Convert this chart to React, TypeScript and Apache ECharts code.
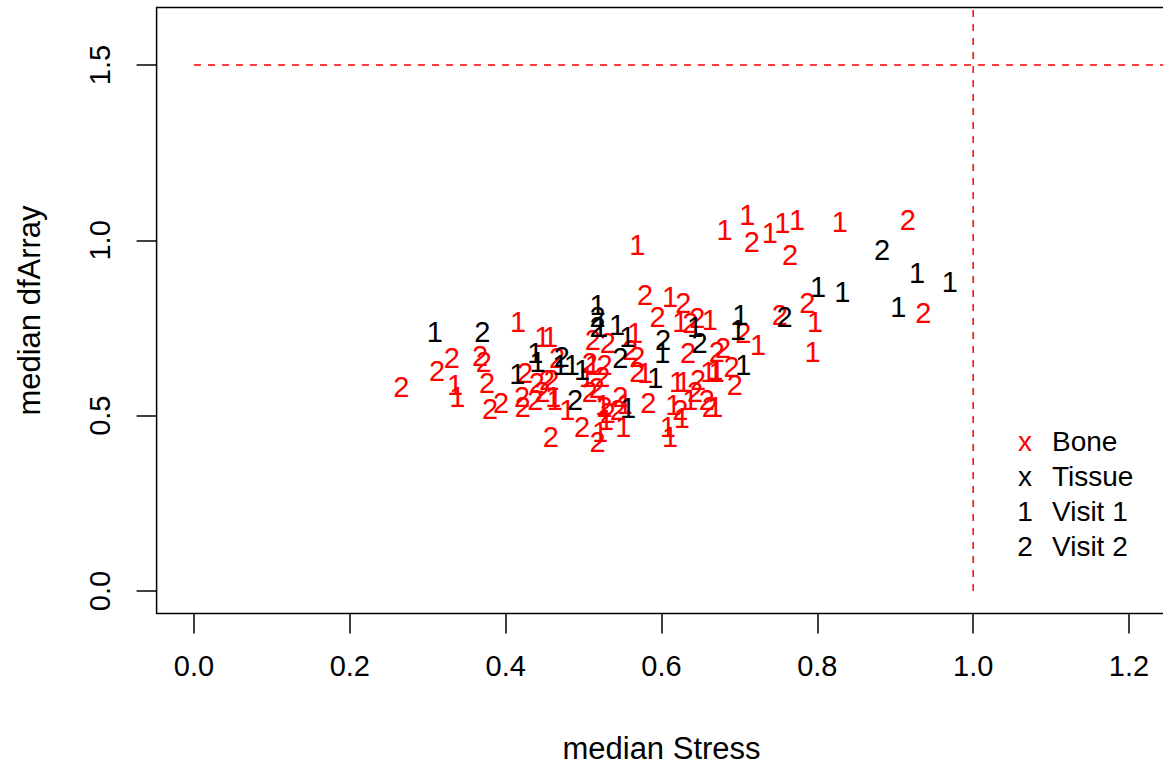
import React, { useEffect, useRef } from "react";
import * as echarts from "echarts";

// Data: [median Stress, median dfArray]
const boneVisit1: number[][] = [
  [0.335, 0.587], [0.338, 0.553], [0.416, 0.767], [0.447, 0.724], [0.457, 0.724],
  [0.512, 0.644], [0.504, 0.61], [0.463, 0.545], [0.479, 0.516], [0.521, 0.453],
  [0.551, 0.468], [0.525, 0.53], [0.566, 0.736], [0.569, 0.987], [0.681, 1.029],
  [0.71, 1.072], [0.739, 1.021], [0.755, 1.049], [0.774, 1.058], [0.829, 1.052],
  [0.611, 0.838], [0.624, 0.767], [0.662, 0.773], [0.579, 0.622], [0.66, 0.625],
  [0.669, 0.63], [0.62, 0.596], [0.628, 0.596], [0.637, 0.545], [0.615, 0.53],
  [0.669, 0.525], [0.608, 0.468], [0.626, 0.493], [0.611, 0.439], [0.724, 0.702],
  [0.797, 0.767], [0.794, 0.682], [0.671, 0.625], [0.529, 0.488], [0.553, 0.533],
  [0.461, 0.553],
];
const boneVisit2: number[][] = [
  [0.266, 0.582], [0.312, 0.627], [0.331, 0.664], [0.367, 0.67], [0.372, 0.653],
  [0.376, 0.593], [0.38, 0.519], [0.394, 0.536], [0.425, 0.622], [0.421, 0.553],
  [0.422, 0.525], [0.44, 0.593], [0.447, 0.567], [0.438, 0.545], [0.453, 0.602],
  [0.466, 0.664], [0.459, 0.602], [0.508, 0.65], [0.527, 0.644], [0.524, 0.61],
  [0.508, 0.567], [0.517, 0.579], [0.527, 0.525], [0.531, 0.508], [0.547, 0.553],
  [0.544, 0.516], [0.498, 0.468], [0.518, 0.425], [0.458, 0.439], [0.512, 0.716],
  [0.531, 0.707], [0.56, 0.687], [0.569, 0.667], [0.579, 0.844], [0.628, 0.821],
  [0.595, 0.781], [0.637, 0.764], [0.646, 0.779], [0.634, 0.679], [0.671, 0.682],
  [0.569, 0.625], [0.647, 0.602], [0.643, 0.567], [0.624, 0.516], [0.658, 0.545],
  [0.662, 0.525], [0.583, 0.536], [0.705, 0.736], [0.752, 0.787], [0.787, 0.821],
  [0.679, 0.693], [0.69, 0.639], [0.694, 0.587], [0.716, 0.995], [0.765, 0.958],
  [0.916, 1.058], [0.936, 0.793],
];
const tissueVisit1: number[][] = [
  [0.309, 0.739], [0.415, 0.619], [0.438, 0.679], [0.441, 0.653], [0.518, 0.816],
  [0.521, 0.753], [0.543, 0.759], [0.556, 0.724], [0.47, 0.644], [0.485, 0.644],
  [0.498, 0.63], [0.557, 0.522], [0.592, 0.607], [0.601, 0.679], [0.643, 0.753],
  [0.701, 0.787], [0.698, 0.744], [0.705, 0.644], [0.801, 0.867], [0.832, 0.853],
  [0.928, 0.907], [0.97, 0.881], [0.904, 0.81],
];
const tissueVisit2: number[][] = [
  [0.37, 0.739], [0.472, 0.667], [0.489, 0.545], [0.518, 0.781], [0.518, 0.753],
  [0.547, 0.664], [0.602, 0.716], [0.649, 0.707], [0.758, 0.781], [0.883, 0.972],
];

const xTicks = [0, 0.2, 0.4, 0.6, 0.8, 1.0, 1.2];
const yTicks = [0, 0.5, 1.0, 1.5];
const refLineY = 1.5;
const refLineX = 1.0;
const legendSymbols = ["x", "x", "1", "2"];
const legendLabels = ["Bone", "Tissue", "Visit 1", "Visit 2"];
const legendColors = ["#ff0000", "#000000", "#000000", "#000000"];

const FONT = "'Liberation Sans', Arial, Helvetica, sans-serif";

function glyphSeries(name: string, data: number[][], glyph: string, color: string) {
  return {
    name,
    type: "scatter",
    data,
    symbolSize: 1,
    itemStyle: { color: "rgba(0,0,0,0)", opacity: 1 },
    label: {
      show: true,
      position: "inside",
      formatter: glyph,
      color,
      opacity: 1,
      textBorderWidth: 0,
      fontSize: 29,
      fontFamily: FONT,
    },
    labelLayout: { hideOverlap: false },
    emphasis: { disabled: true },
    z: 3,
  };
}

export default function App() {
  const ref = useRef<HTMLDivElement>(null);
  useEffect(() => {
    document.body.style.margin = "0";
    const chart = echarts.init(ref.current!, null, { renderer: "svg" });
    const legendGraphics: any[] = [];
    legendLabels.forEach((lab, i) => {
      const cy = 441 + i * 35;
      legendGraphics.push({
        type: "text",
        x: 1025,
        y: cy,
        style: {
          text: legendSymbols[i],
          fill: legendColors[i],
          font: `28px ${FONT}`,
          textAlign: "center",
          textVerticalAlign: "middle",
        },
      });
      legendGraphics.push({
        type: "text",
        x: 1052,
        y: cy,
        style: {
          text: lab,
          fill: "#000",
          font: `28px ${FONT}`,
          textAlign: "left",
          textVerticalAlign: "middle",
        },
      });
    });
    chart.setOption({
      animation: false,
      backgroundColor: "#ffffff",
      grid: {
        left: 156.6,
        top: 7.5,
        width: 1009.8,
        height: 606,
        containLabel: false,
        outerBoundsMode: "none",
        show: true,
        borderColor: "#000",
        borderWidth: 1.5,
        backgroundColor: "transparent",
      },
      xAxis: {
        type: "value",
        min: -0.048,
        max: 1.248,
        splitLine: { show: false },
        axisLine: { show: false, onZero: false },
        axisTick: {
          show: true,
          length: 20,
          lineStyle: { color: "#000", width: 1.5 },
          customValues: xTicks,
        },
        axisLabel: {
          show: true,
          margin: 38,
          fontSize: 29,
          fontFamily: FONT,
          color: "#000",
          customValues: xTicks,
          formatter: (v: number) => v.toFixed(1),
        },
        name: "median Stress",
        nameLocation: "middle",
        nameGap: 119,
        nameTextStyle: { fontSize: 31, fontFamily: FONT, color: "#000" },
      },
      yAxis: {
        type: "value",
        min: -0.064,
        max: 1.664,
        splitLine: { show: false },
        axisLine: { show: false, onZero: false },
        axisTick: {
          show: true,
          length: 20,
          lineStyle: { color: "#000", width: 1.5 },
          customValues: yTicks,
        },
        axisLabel: {
          show: true,
          rotate: 90,
          margin: 42,
          fontSize: 29,
          fontFamily: FONT,
          color: "#000",
          customValues: yTicks,
          formatter: (v: number) => v.toFixed(1),
        },
        name: "median dfArray",
        nameLocation: "middle",
        nameGap: 112,
        nameRotate: 90,
        nameTextStyle: { fontSize: 31, fontFamily: FONT, color: "#000" },
      },
      series: [
        {
          type: "line",
          data: [[0, refLineY], [1.3, refLineY]],
          symbol: "none",
          lineStyle: { color: "#ff0000", width: 1.5, type: [7, 7] },
          clip: true,
          z: 2,
        },
        {
          type: "line",
          data: [[refLineX, 0], [refLineX, 1.7]],
          symbol: "none",
          lineStyle: { color: "#ff0000", width: 1.5, type: [7, 7] },
          clip: true,
          z: 2,
        },
        glyphSeries("Bone Visit 1", boneVisit1, "1", "#ff0000"),
        glyphSeries("Bone Visit 2", boneVisit2, "2", "#ff0000"),
        glyphSeries("Tissue Visit 1", tissueVisit1, "1", "#000000"),
        glyphSeries("Tissue Visit 2", tissueVisit2, "2", "#000000"),
      ],
      graphic: legendGraphics,
    });
    return () => chart.dispose();
  }, []);
  return (
    <div
      ref={ref}
      style={{ width: 1163, height: 764, position: "absolute", left: 0, top: 0 }}
    />
  );
}
